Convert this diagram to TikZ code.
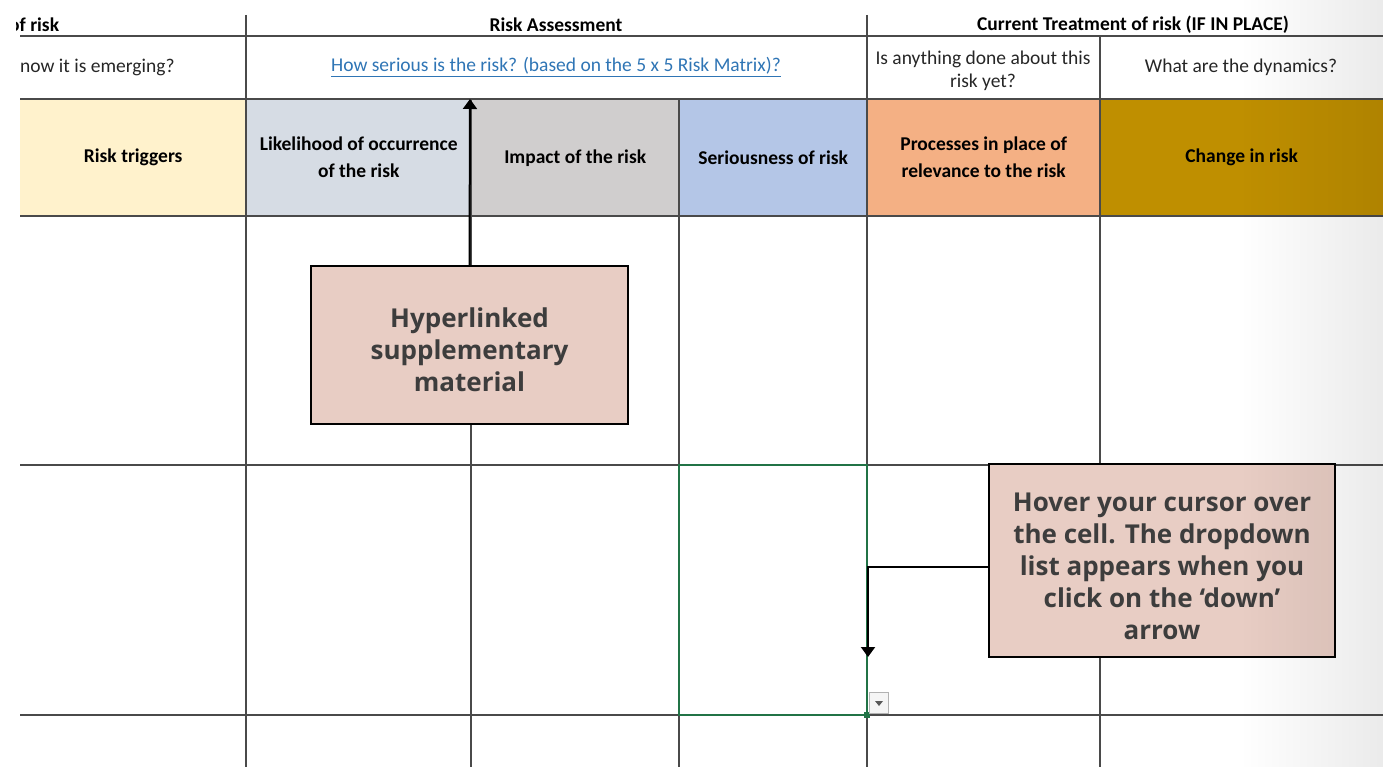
\documentclass[tikz,border=0pt]{standalone}
\usepackage{fontspec}
\setmainfont{Carlito}
\newfontfamily\notefont{Open Sans}
\usetikzlibrary{arrows.meta, positioning}
\definecolor{trigfill}{HTML}{FFF2CC}
\definecolor{likefill}{HTML}{D6DCE4}
\definecolor{impfill}{HTML}{D0CECE}
\definecolor{serfill}{HTML}{B4C6E7}
\definecolor{procfill}{HTML}{F4B084}
\definecolor{chgfill}{HTML}{BF8F00}
\definecolor{notefill}{HTML}{E8CDC4}
\definecolor{notetext}{HTML}{3D3D3D}
\definecolor{gridline}{HTML}{4A4A4A}
\definecolor{linkblue}{HTML}{2F75B5}
\definecolor{selgreen}{HTML}{217346}

\begin{document}
\begin{tikzpicture}[
    x=1pt, y=-1pt,
    grid/.style = {draw=gridline, line width=1.3pt},
    hdr/.style = {rectangle, minimum height=117pt, inner sep=0pt, align=center,
      anchor=north west, font=\bfseries\fontsize{19.5}{27}\selectfont},
    ttl/.style = {inner sep=0pt, font=\bfseries\fontsize{19.5}{22}\selectfont},
    qst/.style = {inner sep=0pt, align=center, text=black!85,
      font=\fontsize{19.5}{23}\selectfont},
    note/.style = {rectangle, draw=black, line width=1.5pt, fill=notefill,
      inner sep=0pt},
    notetxt/.style = {text=notetext, align=center, inner sep=0pt,
      font=\notefont\bfseries\fontsize{26}{32}\selectfont},
    pil/.style = {black, line width=2pt, -{Triangle[width=14pt, length=10pt]}},
    font=\fontsize{19.5}{22}\selectfont
    ]
  \useasboundingbox (0,0) rectangle (1383,767);

  % header colours
  \node[hdr, fill=trigfill, minimum width=226pt] (trig) at (20,99) {Risk triggers} ;
  \node[hdr, fill=likefill, minimum width=225pt] (like) at (246,99) {Likelihood of occurrence\\of the risk} ;
  \node[hdr, fill=impfill, minimum width=208pt] (imp) at (471,99) {Impact of the risk} ;
  \node[hdr, fill=serfill, minimum width=188pt] (ser) at (679,99) {Seriousness of risk} ;
  \node[hdr, fill=procfill, minimum width=233pt] (proc) at (867,99) {Processes in place of\\relevance to the risk} ;
  \node[hdr, fill=chgfill, minimum width=283pt] (chg) at (1100,99) {Change in risk} ;

  % grid
  \foreach \y in {36,99,216,465,715}
    \draw[grid] (20,\y) -- (1383,\y) ;
  \draw[grid] (246,15) -- (246,767) ;
  \draw[grid] (867,15) -- (867,767) ;
  \draw[grid] (1100,36) -- (1100,767) ;
  \foreach \x in {471,679}
    \draw[grid] (\x,99) -- (\x,767) ;

  % titles and questions
  \begin{scope}
    \clip (16,0) rectangle (246,36) ;
    \node[ttl, anchor=west] (sect1) at (9,25) {of risk} ;
  \end{scope}
  \node[ttl] (sect2) at (556,25) {Risk Assessment} ;
  \node[ttl] (sect3) at (1133,25) {Current Treatment of risk (IF IN PLACE)} ;
  \node[qst, anchor=west] (q1) at (20,67) {now it is emerging?} ;
  \node[qst, text=linkblue] (link) at (556,67)
    {\underline{How serious is the risk? (based on the 5 x 5 Risk Matrix)?}} ;
  \node[qst] (q3) at (983,71) {Is anything done about this\\risk yet?} ;
  \node[qst] (q4) at (1241,67) {What are the dynamics?} ;

  % selected cell
  \draw[selgreen, line width=2pt] (679,465) rectangle (867,715) ;
  \fill[selgreen] (864,712) rectangle (870,718) ;
  \node[draw=gray!60, fill=gray!8, minimum width=19pt, minimum height=21pt,
    inner sep=0pt, anchor=north west] (dd) at (869,692) {} ;
  \fill[gray!70!black] (875,701) -- (883,701) -- (879,706) -- cycle ;

  % callouts
  \node[note, minimum width=317pt, minimum height=158pt] (hyper) at (469.5,345) {} ;
  \node[notetxt] (hypertxt) at ([yshift=-5pt]hyper.center)
    {Hyperlinked\\supplementary\\material} ;
  \node[note, minimum width=346pt, minimum height=193pt] (hover) at (1162,560.5) {} ;
  \node[notetxt] (hovertxt) at ([yshift=-6pt]hover.center)
    {Hover your cursor over\\the cell. The dropdown\\list appears when you\\click on the ‘down’\\arrow} ;
  \coordinate (linktip) at (470,99) ;
  \coordinate (ddtip) at (868,657) ;

  \draw[pil] (hyper.north) -- (linktip) ;
  \draw[pil] ([yshift=-6pt]hover.west) -| (ddtip) ;

  \begin{scope}[blend mode=multiply]
    \shade[left color=white, right color=black!8] (1240,0) rectangle (1383,767) ;
  \end{scope}
\end{tikzpicture}
\end{document}
